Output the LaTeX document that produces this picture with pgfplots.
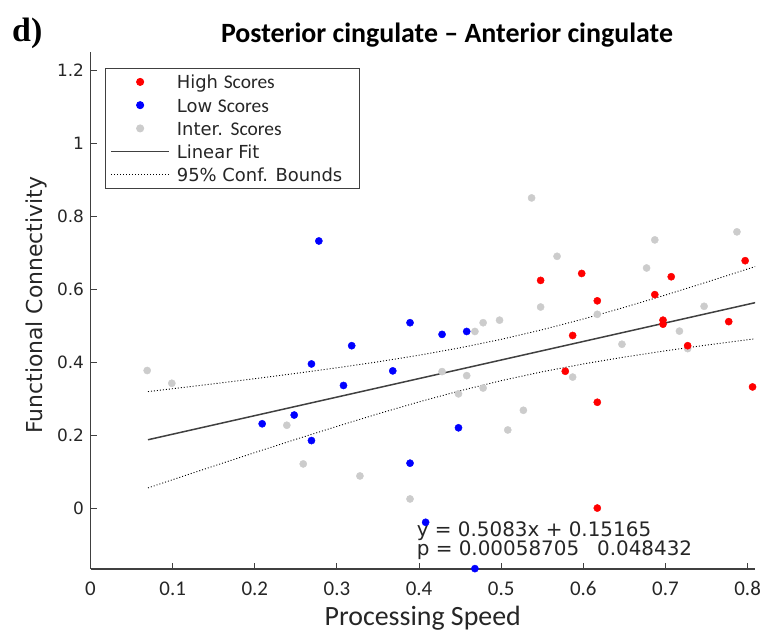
\documentclass[border=0pt]{standalone}
\usepackage{fontspec}
\setmainfont{DejaVu Sans}
\newfontfamily\carlito{Carlito}
\newfontfamily\serifd{Liberation Serif}
\usepackage{pgfplots}
\pgfplotsset{compat=1.18}
\definecolor{hi}{RGB}{255,0,0}
\definecolor{lo}{RGB}{0,0,255}
\definecolor{mid}{RGB}{204,204,204}
\definecolor{axc}{RGB}{64,64,64}
\definecolor{txt}{RGB}{38,38,38}
\begin{document}
\begin{tikzpicture}[x=1bp,y=1bp]
\path[use as bounding box] (0,0) rectangle (763,633);
\node[anchor=base west, font=\serifd\bfseries\fontsize{34}{34}\selectfont, inner sep=0] at (12,591) {d)};
\node[anchor=base, font=\carlito\bfseries\fontsize{28}{28}\selectfont, inner sep=0] at (447,590) {Posterior cingulate – Anterior cingulate};
\begin{axis}[
  at={(90.5bp,64bp)}, anchor=south west,
  width=664.5bp, height=517bp, scale only axis,
  xmin=0, xmax=0.809, ymin=-0.167, ymax=1.25,
  axis x line*=bottom, axis y line*=left,
  axis line style={axc, line width=1.1bp, -},
  tick align=inside, major tick length=6bp,
  tick style={axc, line width=1bp},
  /pgf/number format/assume math mode=true,
  xtick={0,0.1,0.2,0.3,0.4,0.5,0.6,0.7,0.8},
  xticklabels={0,0.1,0.2,0.3,0.4,0.5,0.6,0.7,0.8},
  ytick={0,0.2,0.4,0.6,0.8,1,1.2},
  yticklabels={0,0.2,0.4,0.6,0.8,1,1.2},
  xticklabel style={font=\carlito\fontsize{21}{21}\selectfont, text=txt, yshift=-9bp},
  yticklabel style={font=\fontsize{17}{17}\selectfont, text=txt, xshift=-3bp},
  xlabel={Processing Speed},
  xlabel style={font=\carlito\fontsize{28}{28}\selectfont, text=txt, at={(axis description cs:0.5,0)}, anchor=base, yshift=-57bp},
  ylabel={Functional Connectivity},
  ylabel style={font=\fontsize{22}{22}\selectfont, text=txt, at={(axis description cs:-0.072,0.51)}, anchor=base},
  legend image code/.code={\draw[#1,mark repeat=2,mark phase=2] plot coordinates {(0bp,0bp) (29bp,0bp) (58bp,0bp)};},
  legend cell align=left,
  legend style={at={(rel axis cs:0.0218,0.969)}, anchor=north west, draw=axc, line width=0.8bp,
    font=\fontsize{18}{18}\selectfont, fill=white, inner sep=5bp, row sep=6.25bp, column sep=7bp,
    nodes={inner sep=0bp, text height=15.5bp, text depth=1.5bp, text=txt}},
]
\addlegendimage{only marks, mark=*, mark size=3.6bp, mark options={draw=none}, color=hi}
\addlegendentry{High {\carlito\fontsize{19.5}{19.5}\selectfont Scores}}
\addlegendimage{only marks, mark=*, mark size=3.6bp, mark options={draw=none}, color=lo}
\addlegendentry{Low {\carlito\fontsize{19.5}{19.5}\selectfont Scores}}
\addlegendimage{only marks, mark=*, mark size=3.6bp, mark options={draw=none}, color=mid}
\addlegendentry{Inter. {\carlito\fontsize{19.5}{19.5}\selectfont Scores}}
\addlegendimage{color=axc, line width=1.5bp}
\addlegendentry{Linear Fit}
\addlegendimage{black, line width=0.9bp, dash pattern=on 1bp off 2bp}
\addlegendentry{95\% Conf. Bounds\hspace*{12bp}\mbox{}}

% linear fit
\addplot[forget plot, color=axc, line width=1.5bp] coordinates {(0.07,0.18723) (0.81,0.56337)};
% confidence bounds
\addplot[forget plot, black, line width=0.9bp, dash pattern=on 1bp off 2bp] coordinates {
(0.07,0.3192) (0.10,0.3271) (0.15,0.3406) (0.20,0.3546) (0.25,0.3691) (0.30,0.3844) (0.35,0.4008) (0.40,0.4189) (0.45,0.4393) (0.50,0.4624) (0.55,0.4888) (0.60,0.5182) (0.65,0.5502) (0.70,0.5839) (0.75,0.6191) (0.81,0.6624)};
\addplot[forget plot, black, line width=0.9bp, dash pattern=on 1bp off 2bp] coordinates {
(0.07,0.0552) (0.10,0.0778) (0.15,0.1151) (0.20,0.1521) (0.25,0.1884) (0.30,0.2239) (0.35,0.2583) (0.40,0.2910) (0.45,0.3215) (0.50,0.3492) (0.55,0.3736) (0.60,0.3950) (0.65,0.4139) (0.70,0.4310) (0.75,0.4467) (0.81,0.4643)};
% intermediate
\addplot[forget plot, only marks, mark=*, mark size=3.6bp, mark options={draw=none}, color=mid] coordinates {
(0.069,0.377) (0.099,0.342) (0.239,0.227) (0.259,0.121) (0.328,0.088) (0.389,0.025) (0.428,0.374) (0.448,0.313) (0.458,0.363) (0.468,0.484) (0.478,0.329) (0.478,0.508) (0.498,0.515) (0.508,0.214) (0.527,0.268) (0.537,0.850) (0.548,0.551) (0.568,0.690) (0.587,0.359) (0.617,0.531) (0.647,0.449) (0.677,0.658) (0.687,0.735) (0.717,0.485) (0.727,0.437) (0.747,0.553) (0.787,0.757)};
% low
\addplot[forget plot, only marks, mark=*, mark size=3.6bp, mark options={draw=none}, color=lo] coordinates {
(0.209,0.231) (0.248,0.255) (0.269,0.395) (0.269,0.185) (0.278,0.732) (0.308,0.336) (0.318,0.445) (0.368,0.376) (0.389,0.508) (0.389,0.123) (0.408,-0.039) (0.428,0.476) (0.448,0.220) (0.458,0.484) (0.468,-0.166)};
% high
\addplot[forget plot, only marks, mark=*, mark size=3.6bp, mark options={draw=none}, color=hi] coordinates {
(0.548,0.624) (0.598,0.643) (0.617,0.568) (0.687,0.585) (0.707,0.634) (0.797,0.678) (0.587,0.473) (0.697,0.515) (0.697,0.504) (0.777,0.511) (0.727,0.445) (0.578,0.375) (0.617,0.290) (0.806,0.332) (0.617,0.000)};
\node[anchor=base west, inner sep=0, font=\fontsize{20}{20}\selectfont, text=txt] at (axis cs:0.397,-0.077) {y = 0.5083x + 0.15165};
\node[anchor=base west, inner sep=0, font=\fontsize{20}{20}\selectfont, text=txt] at (axis cs:0.397,-0.129) {p = 0.00058705\hspace{0.9em}0.048432};
\end{axis}
\end{tikzpicture}
\end{document}
